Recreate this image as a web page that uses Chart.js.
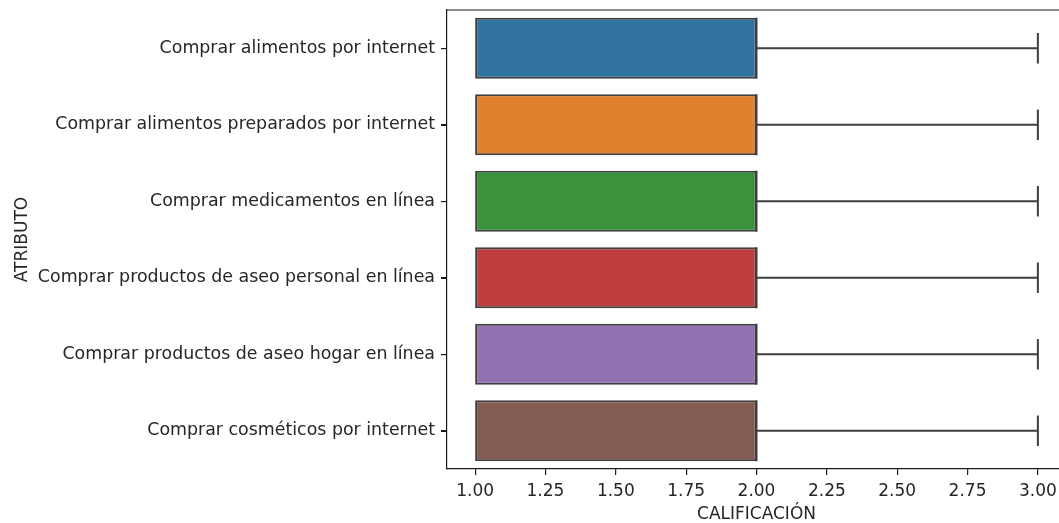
<!DOCTYPE html>
<html>
<head>
<meta charset="utf-8">
<script src="https://cdn.jsdelivr.net/npm/chart.js@4/dist/chart.umd.min.js"></script>
<style>
  html, body { margin: 0; padding: 0; background: #fff; overflow: hidden; }
  #wrap { width: 1070px; height: 523px; overflow: hidden; }
</style>
</head>
<body>
<div id="wrap"><canvas id="boxChart" width="1070" height="525"></canvas></div>
<script>
  const categories = [
    'Comprar alimentos por internet',
    'Comprar alimentos preparados por internet',
    'Comprar medicamentos en línea',
    'Comprar productos de aseo personal en línea',
    'Comprar productos de aseo hogar en línea',
    'Comprar cosméticos por internet',
  ];
  const whiskerLow = [1, 1, 1, 1, 1, 1];
  const q1 = [1, 1, 1, 1, 1, 1];
  const median = [2, 2, 2, 2, 2, 2];
  const q3 = [2, 2, 2, 2, 2, 2];
  const whiskerHigh = [3, 3, 3, 3, 3, 3];
  const xTicks = [1.0, 1.25, 1.5, 1.75, 2.0, 2.25, 2.5, 2.75, 3.0];
  const colors = ['#3274a1', '#e1812c', '#3a923a', '#c03d3e', '#9372b2', '#845b53'];

  const lineColor = '#3f3f3f';
  const textColor = '#262626';
  const spineColor = '#1a1a1a';
  const catFont = { family: 'DejaVu Sans', size: 17.4 };
  const font = { family: 'DejaVu Sans', size: 17 };

  // whiskers, caps, medians, category ticks and the top/right spines
  const boxExtras = {
    id: 'boxExtras',
    afterDatasetsDraw(chart) {
      const ctx = chart.ctx;
      const xs = chart.scales.x;
      const ys = chart.scales.y;
      const meta = chart.getDatasetMeta(0);
      const a = chart.chartArea;
      ctx.save();
      ctx.strokeStyle = lineColor;
      ctx.lineWidth = 2;
      categories.forEach((c, i) => {
        const bar = meta.data[i];
        const y = bar.y;
        const h = bar.height;
        const capH = h / 4;
        const xLo = xs.getPixelForValue(whiskerLow[i]);
        const xQ1 = xs.getPixelForValue(q1[i]);
        const xQ3 = xs.getPixelForValue(q3[i]);
        const xHi = xs.getPixelForValue(whiskerHigh[i]);
        const xMed = xs.getPixelForValue(median[i]);
        ctx.beginPath();
        ctx.moveTo(xQ3, y); ctx.lineTo(xHi, y);
        ctx.moveTo(xHi, y - capH); ctx.lineTo(xHi, y + capH);
        if (xLo < xQ1) {
          ctx.moveTo(xLo, y); ctx.lineTo(xQ1, y);
          ctx.moveTo(xLo, y - capH); ctx.lineTo(xLo, y + capH);
        }
        ctx.moveTo(xMed, y - h / 2); ctx.lineTo(xMed, y + h / 2);
        ctx.stroke();
      });
      ctx.strokeStyle = spineColor;
      ctx.lineWidth = 1.2;
      ctx.beginPath();
      categories.forEach((c, i) => {
        const y = Math.round(ys.getPixelForValue(i)) + 0.5;
        ctx.moveTo(a.left - 6, y); ctx.lineTo(a.left, y);
      });
      ctx.moveTo(a.left, a.top); ctx.lineTo(a.right, a.top); ctx.lineTo(a.right, a.bottom);
      ctx.stroke();
      ctx.restore();
    }
  };

  new Chart(document.getElementById('boxChart'), {
    type: 'bar',
    data: {
      labels: categories,
      datasets: [{
        data: q1.map((v, i) => [v, q3[i]]),
        backgroundColor: colors,
        borderColor: lineColor,
        borderWidth: 2,
        borderSkipped: false,
        barPercentage: 0.8,
        categoryPercentage: 1.0,
      }],
    },
    options: {
      indexAxis: 'y',
      responsive: false,
      animation: false,
      layout: { padding: { top: 10, right: 4, left: 0, bottom: 0 } },
      plugins: { legend: { display: false }, tooltip: { enabled: false } },
      scales: {
        x: {
          type: 'linear',
          min: 0.9,
          max: 3.1,
          afterBuildTicks: (scale) => { scale.ticks = xTicks.map((v) => ({ value: v })); },
          afterFit: (scale) => {
            scale.height = 56;
            scale.paddingLeft = 0;
            scale.paddingRight = 0;
          },
          ticks: {
            color: textColor,
            font: font,
            padding: 6,
            maxRotation: 0,
            callback: (v) => Number(v).toFixed(2),
          },
          grid: { drawOnChartArea: false, drawTicks: true, tickLength: 6, color: spineColor, lineWidth: 1.2 },
          border: { display: true, color: spineColor, width: 1.2 },
          title: { display: true, text: 'CALIFICACIÓN', color: textColor, font: font, padding: { top: 0, bottom: 0 } },
        },
        y: {
          type: 'category',
          afterFit: (scale) => {
            scale.width = 447;
            scale.paddingTop = 0;
            scale.paddingBottom = 0;
          },
          ticks: { color: textColor, font: catFont, padding: 6 },
          grid: { offset: false, drawOnChartArea: false, drawTicks: true, tickLength: 6, color: spineColor, lineWidth: 1.2 },
          border: { display: true, color: spineColor, width: 1.2 },
          title: { display: true, text: 'ATRIBUTO', color: textColor, font: font, padding: { top: 12, bottom: 4 } },
        },
      },
    },
    plugins: [boxExtras],
  });
</script>
</body>
</html>
